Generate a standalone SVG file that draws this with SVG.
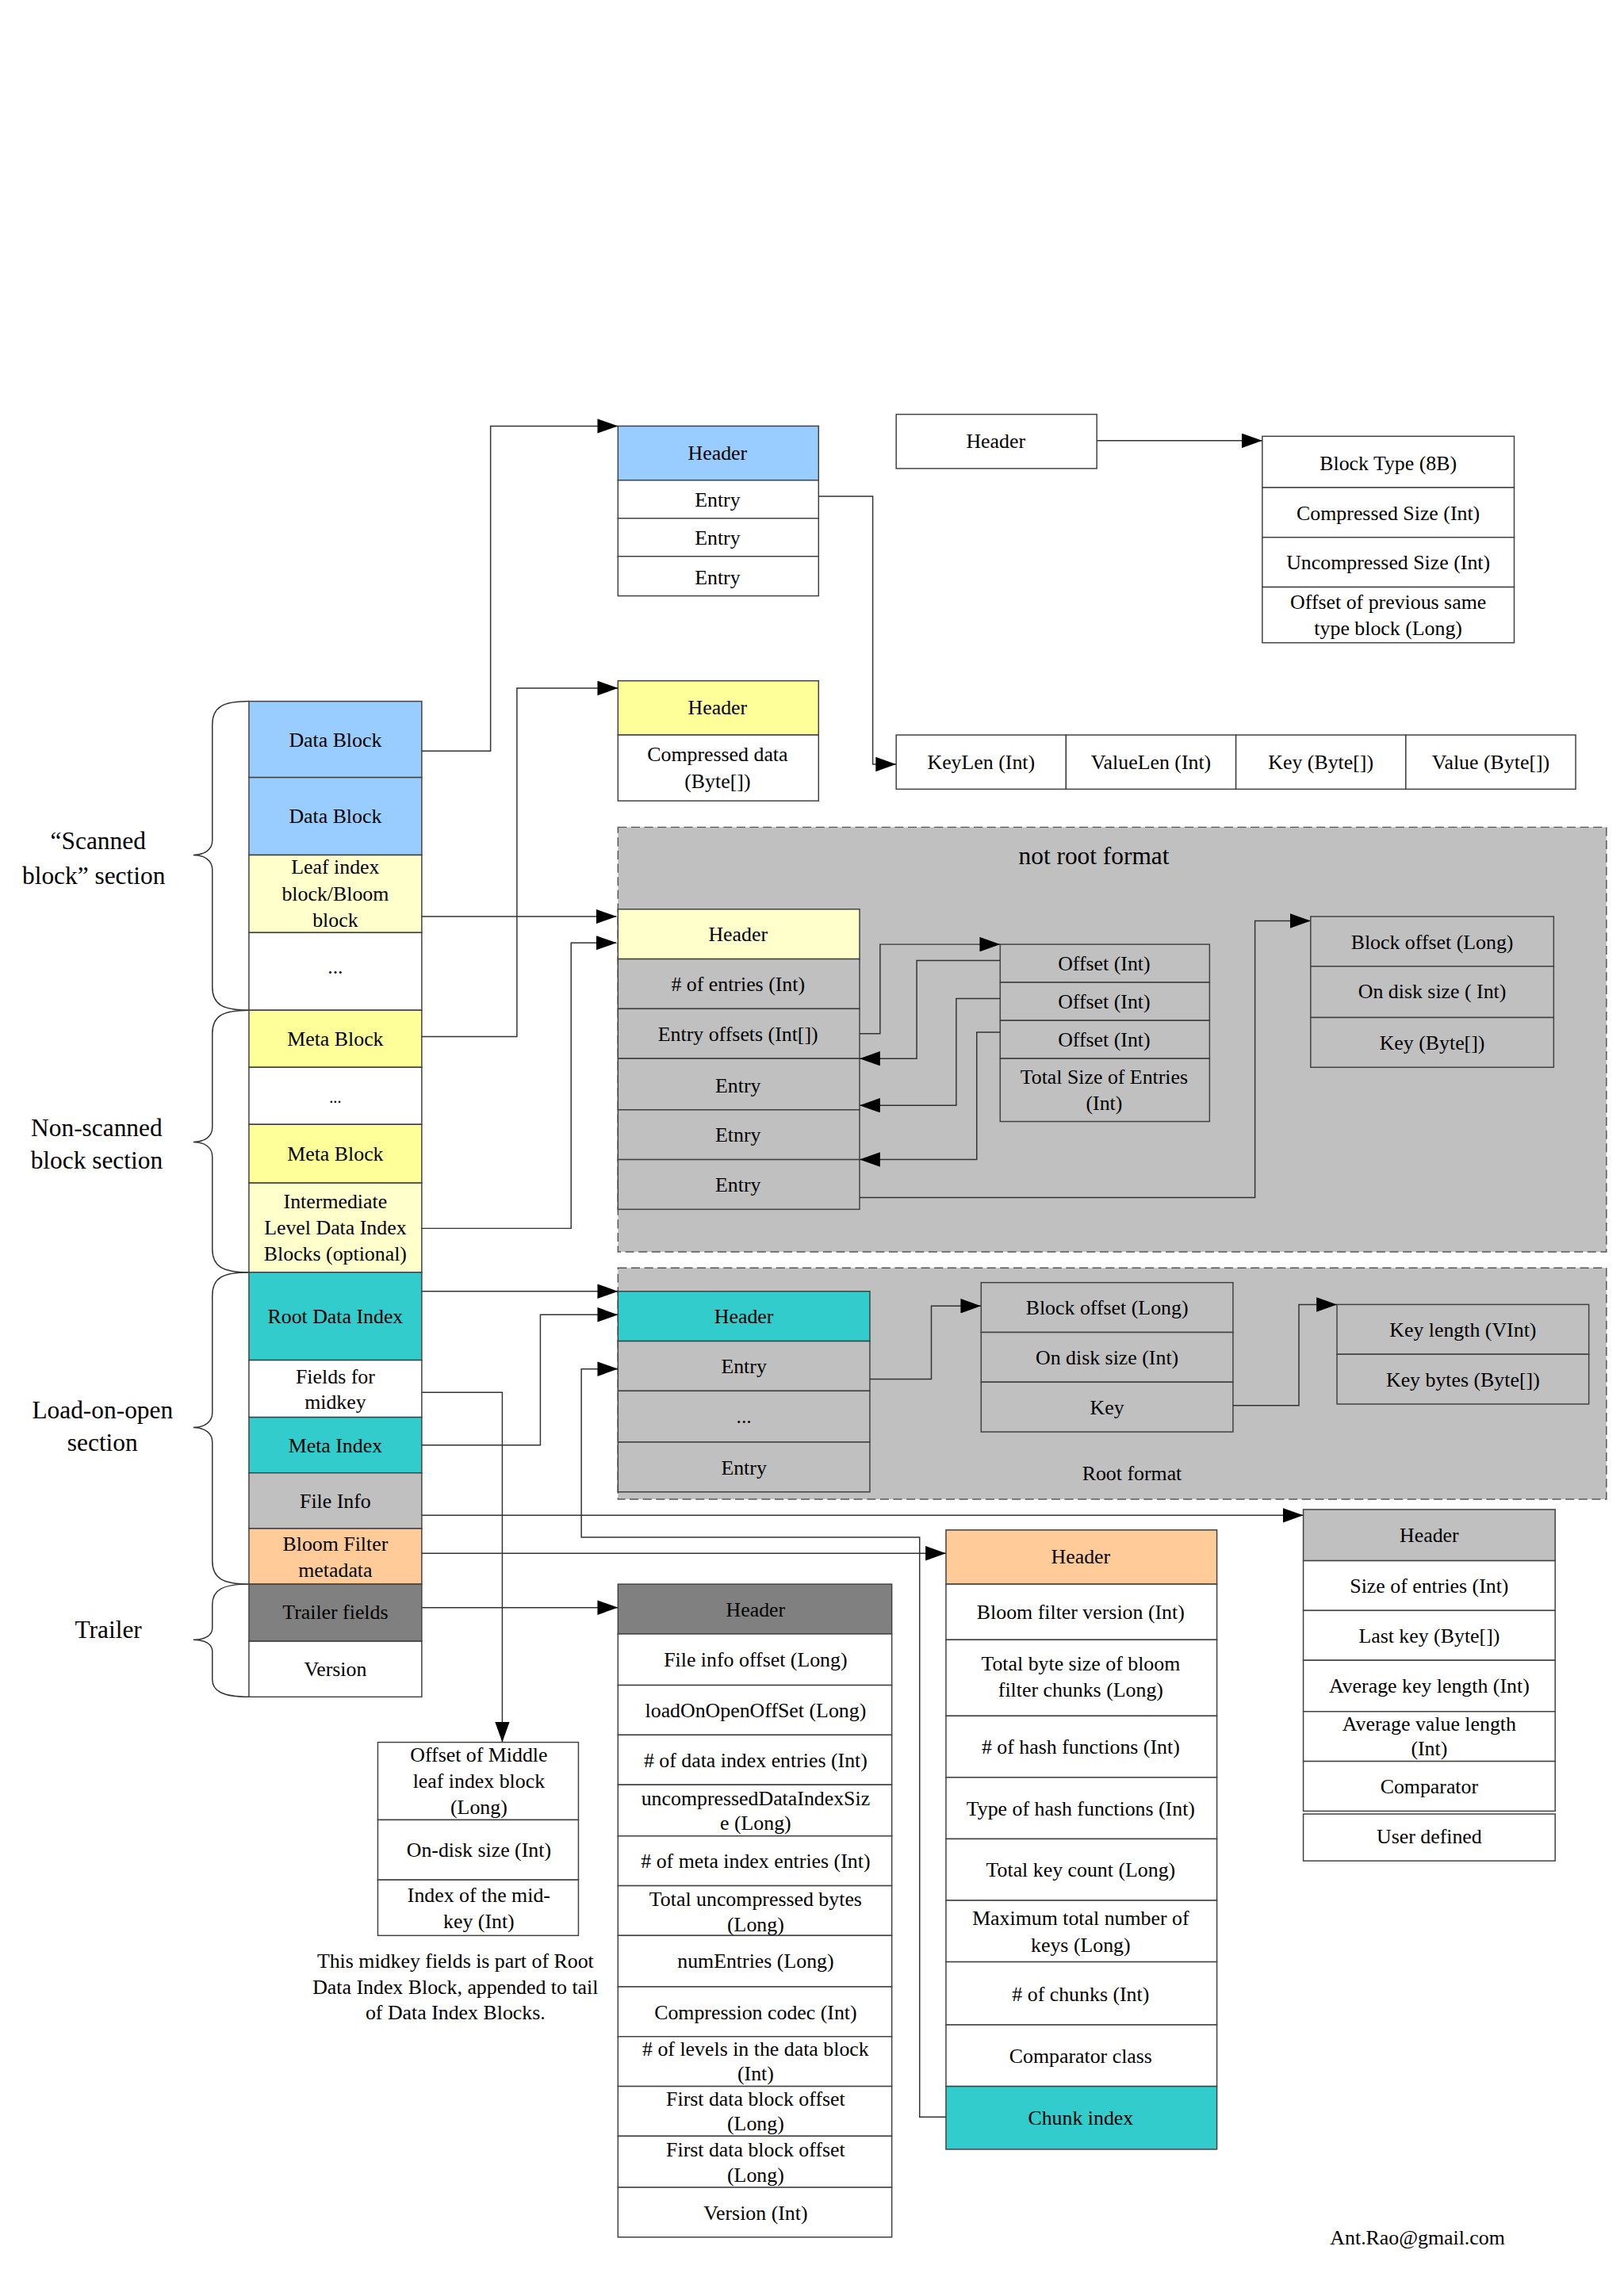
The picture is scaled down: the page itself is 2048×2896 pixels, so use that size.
<svg xmlns="http://www.w3.org/2000/svg" width="2048" height="2896" viewBox="0 0 2048 2896">
<defs>
<marker id="ah" markerUnits="userSpaceOnUse" markerWidth="14" markerHeight="10" refX="14" refY="5" orient="auto"><path d="M0,0 L14,5 L0,10 z" fill="#000"/></marker>
<style>
rect{stroke:#404040;stroke-width:0.8}
.w{fill:#fff}.b{fill:#99CCFF}.y{fill:#FFFF99}.ly{fill:#FFFFCC}.t{fill:#33CCCC}.g{fill:#C0C0C0}.o{fill:#FFCC99}.d{fill:#808080}
text{font-family:"Liberation Serif","Times New Roman",serif;font-size:14px;text-anchor:middle;fill:#000}
.big{font-size:17px}
.cn path,.cn polyline{fill:none;stroke:#333;stroke-width:0.8}
.ar{marker-end:url(#ah)}
.dash{fill:#C0C0C0;stroke:#555;stroke-dasharray:6,3;stroke-width:0.8}
</style>
</defs>
<rect x="0" y="0" width="2048" height="2896" fill="#fff" style="stroke:none"/>
<g transform="scale(1.8467)">
<g id="labels">
<text class="big" x="67" y="580">“Scanned</text><text class="big" x="64" y="604">block”  section</text>
<text class="big" x="66" y="776">Non-scanned</text><text class="big" x="66" y="798">block section</text>
<text class="big" x="70" y="969">Load-on-open</text><text class="big" x="70" y="991">section</text>
<text class="big" x="74" y="1119">Trailer</text>
<path d="M170,479 C152,479 145,483 145,495 L145,574 C145,580 140,584 132,584 C140,584 145,588 145,594 L145,674 C145,686 152,690 170,690" fill="none" stroke="#333" stroke-width="0.8"/>
<path d="M170,690 C152,690 145,694 145,706 L145,770 C145,776 140,780 132,780 C140,780 145,784 145,790 L145,853 C145,865 152,869 170,869" fill="none" stroke="#333" stroke-width="0.8"/>
<path d="M170,869 C152,869 145,873 145,885 L145,965 C145,971 140,975 132,975 C140,975 145,979 145,985 L145,1066 C145,1078 152,1082 170,1082" fill="none" stroke="#333" stroke-width="0.8"/>
<path d="M170,1082 C152,1082 145,1086 145,1096 L145,1112 C145,1117 140,1120 132,1120 C140,1120 145,1123 145,1128 L145,1147 C145,1155 152,1159 170,1159" fill="none" stroke="#333" stroke-width="0.8"/>
</g>
<g id="hfile">
<rect class="b" x="170" y="479" width="118" height="52"/><text x="229" y="510">Data Block</text>
<rect class="b" x="170" y="531" width="118" height="53"/><text x="229" y="562">Data Block</text>
<rect class="ly" x="170" y="584" width="118" height="53"/><text x="229" y="597">Leaf index</text><text x="229" y="615">block/Bloom</text><text x="229" y="633">block</text>
<rect class="w" x="170" y="637" width="118" height="53"/><text x="229" y="665">...</text>
<rect class="y" x="170" y="690" width="118" height="39"/><text x="229" y="714">Meta Block</text>
<rect class="w" x="170" y="729" width="118" height="39"/><text x="229" y="753" style="font-size:11px">...</text>
<rect class="y" x="170" y="768" width="118" height="40"/><text x="229" y="793">Meta Block</text>
<rect class="ly" x="170" y="808" width="118" height="61"/><text x="229" y="825">Intermediate</text><text x="229" y="843">Level Data Index</text><text x="229" y="861">Blocks (optional)</text>
<rect class="t" x="170" y="869" width="118" height="60"/><text x="229" y="904">Root Data Index</text>
<rect class="w" x="170" y="929" width="118" height="39"/><text x="229" y="945">Fields for</text><text x="229" y="962">midkey</text>
<rect class="t" x="170" y="968" width="118" height="38"/><text x="229" y="992">Meta Index</text>
<rect class="g" x="170" y="1006" width="118" height="38"/><text x="229" y="1030">File Info</text>
<rect class="o" x="170" y="1044" width="118" height="38"/><text x="229" y="1059">Bloom Filter</text><text x="229" y="1077">metadata</text>
<rect class="d" x="170" y="1082" width="118" height="39"/><text x="229" y="1106">Trailer fields</text>
<rect class="w" x="170" y="1121" width="118" height="38"/><text x="229" y="1145">Version</text>
</g>
<g id="datablock">
<rect class="b" x="422" y="291" width="137" height="37"/><text x="490" y="314">Header</text>
<rect class="w" x="422" y="328" width="137" height="26"/><text x="490" y="346">Entry</text>
<rect class="w" x="422" y="354" width="137" height="26"/><text x="490" y="372">Entry</text>
<rect class="w" x="422" y="380" width="137" height="27"/><text x="490" y="399">Entry</text>
</g>
<g id="metablock">
<rect class="y" x="422" y="465" width="137" height="37"/><text x="490" y="488">Header</text>
<rect class="w" x="422" y="502" width="137" height="45"/><text x="490" y="520">Compressed data</text><text x="490" y="538">(Byte[])</text>
</g>
<g id="blockheader">
<rect class="w" x="612" y="283" width="137" height="37"/><text x="680" y="306">Header</text>
<rect class="w" x="862" y="298" width="172" height="35"/><text x="948" y="321">Block Type (8B)</text>
<rect class="w" x="862" y="333" width="172" height="34"/><text x="948" y="355">Compressed Size (Int)</text>
<rect class="w" x="862" y="367" width="172" height="34"/><text x="948" y="389">Uncompressed Size (Int)</text>
<rect class="w" x="862" y="401" width="172" height="38"/><text x="948" y="416">Offset of previous same</text><text x="948" y="434">type block (Long)</text>
</g>
<g id="keyvalue">
<rect class="w" x="612" y="502" width="116" height="37"/><text x="670" y="525">KeyLen (Int)</text>
<rect class="w" x="728" y="502" width="116" height="37"/><text x="786" y="525">ValueLen (Int)</text>
<rect class="w" x="844" y="502" width="116" height="37"/><text x="902" y="525">Key (Byte[])</text>
<rect class="w" x="960" y="502" width="116" height="37"/><text x="1018" y="525">Value (Byte[])</text>
</g>
<g id="notroot">
<rect class="dash" x="422" y="565" width="675" height="290"/>
<text class="big" x="747" y="590">not root format</text>
<rect class="ly" x="422" y="621" width="165" height="34"/><text x="504" y="643">Header</text>
<rect class="g" x="422" y="655" width="165" height="34"/><text x="504" y="677"># of entries (Int)</text>
<rect class="g" x="422" y="689" width="165" height="34"/><text x="504" y="711">Entry offsets (Int[])</text>
<rect class="g" x="422" y="723" width="165" height="35"/><text x="504" y="746">Entry</text>
<rect class="g" x="422" y="758" width="165" height="34"/><text x="504" y="780">Etnry</text>
<rect class="g" x="422" y="792" width="165" height="34"/><text x="504" y="814">Entry</text>
<rect class="g" x="683" y="645" width="143" height="26"/><text x="754" y="663">Offset (Int)</text>
<rect class="g" x="683" y="671" width="143" height="26"/><text x="754" y="689">Offset (Int)</text>
<rect class="g" x="683" y="697" width="143" height="26"/><text x="754" y="715">Offset (Int)</text>
<rect class="g" x="683" y="723" width="143" height="43"/><text x="754" y="740">Total Size of Entries</text><text x="754" y="758">(Int)</text>
<rect class="g" x="895" y="626" width="166" height="34"/><text x="978" y="648">Block offset (Long)</text>
<rect class="g" x="895" y="660" width="166" height="35"/><text x="978" y="682">On disk size ( Int)</text>
<rect class="g" x="895" y="695" width="166" height="34"/><text x="978" y="717">Key (Byte[])</text>
</g>
<g id="root">
<rect class="dash" x="422" y="866" width="675" height="158"/>
<rect class="t" x="422" y="882" width="172" height="34"/><text x="508" y="904">Header</text>
<rect class="g" x="422" y="916" width="172" height="34"/><text x="508" y="938">Entry</text>
<rect class="g" x="422" y="950" width="172" height="35"/><text x="508" y="972">...</text>
<rect class="g" x="422" y="985" width="172" height="34"/><text x="508" y="1007">Entry</text>
<rect class="g" x="670" y="876" width="172" height="34"/><text x="756" y="898">Block offset (Long)</text>
<rect class="g" x="670" y="910" width="172" height="34"/><text x="756" y="932">On disk size (Int)</text>
<rect class="g" x="670" y="944" width="172" height="34"/><text x="756" y="966">Key</text>
<rect class="g" x="913" y="891" width="172" height="34"/><text x="999" y="913">Key length (VInt)</text>
<rect class="g" x="913" y="925" width="172" height="34"/><text x="999" y="947">Key bytes (Byte[])</text>
<text x="773" y="1011">Root format</text>
</g>
<g id="midkey">
<rect class="w" x="258" y="1190" width="137" height="53"/><text x="327" y="1203">Offset of Middle</text><text x="327" y="1221">leaf index block</text><text x="327" y="1239">(Long)</text>
<rect class="w" x="258" y="1243" width="137" height="41"/><text x="327" y="1268">On-disk size (Int)</text>
<rect class="w" x="258" y="1284" width="137" height="38"/><text x="327" y="1299">Index of the mid-</text><text x="327" y="1317">key (Int)</text>
<text x="311" y="1344">This midkey fields is part of Root</text><text x="311" y="1362">Data Index Block, appended to tail</text><text x="311" y="1379">of Data Index Blocks.</text>
</g>
<g id="trailer">
<rect class="d" x="422" y="1082" width="187" height="34"/><text x="516" y="1104">Header</text>
<rect class="w" x="422" y="1116" width="187" height="35"/><text x="516" y="1138">File info offset (Long)</text>
<rect class="w" x="422" y="1151" width="187" height="34"/><text x="516" y="1173">loadOnOpenOffSet (Long)</text>
<rect class="w" x="422" y="1185" width="187" height="34"/><text x="516" y="1207"># of data index entries (Int)</text>
<rect class="w" x="422" y="1219" width="187" height="35"/><text x="516" y="1233">uncompressedDataIndexSiz</text><text x="516" y="1250">e (Long)</text>
<rect class="w" x="422" y="1254" width="187" height="34"/><text x="516" y="1276"># of meta index entries (Int)</text>
<rect class="w" x="422" y="1288" width="187" height="34"/><text x="516" y="1302">Total uncompressed bytes</text><text x="516" y="1319">(Long)</text>
<rect class="w" x="422" y="1322" width="187" height="35"/><text x="516" y="1344">numEntries (Long)</text>
<rect class="w" x="422" y="1357" width="187" height="34"/><text x="516" y="1379">Compression codec (Int)</text>
<rect class="w" x="422" y="1391" width="187" height="34"/><text x="516" y="1404"># of levels in the data block</text><text x="516" y="1421">(Int)</text>
<rect class="w" x="422" y="1425" width="187" height="34"/><text x="516" y="1438">First data block offset</text><text x="516" y="1455">(Long)</text>
<rect class="w" x="422" y="1459" width="187" height="35"/><text x="516" y="1473">First data block offset</text><text x="516" y="1490">(Long)</text>
<rect class="w" x="422" y="1494" width="187" height="34"/><text x="516" y="1516">Version (Int)</text>
</g>
<g id="bloom">
<rect class="o" x="646" y="1045" width="185" height="37"/><text x="738" y="1068">Header</text>
<rect class="w" x="646" y="1082" width="185" height="38"/><text x="738" y="1106">Bloom filter version (Int)</text>
<rect class="w" x="646" y="1120" width="185" height="52"/><text x="738" y="1141">Total byte size of bloom</text><text x="738" y="1159">filter chunks (Long)</text>
<rect class="w" x="646" y="1172" width="185" height="42"/><text x="738" y="1198"># of hash functions (Int)</text>
<rect class="w" x="646" y="1214" width="185" height="42"/><text x="738" y="1240">Type of hash functions (Int)</text>
<rect class="w" x="646" y="1256" width="185" height="42"/><text x="738" y="1282">Total key count (Long)</text>
<rect class="w" x="646" y="1298" width="185" height="42"/><text x="738" y="1315">Maximum total number of</text><text x="738" y="1333">keys (Long)</text>
<rect class="w" x="646" y="1340" width="185" height="43"/><text x="738" y="1367"># of chunks (Int)</text>
<rect class="w" x="646" y="1383" width="185" height="42"/><text x="738" y="1409">Comparator class</text>
<rect class="t" x="646" y="1425" width="185" height="43"/><text x="738" y="1451">Chunk index</text>
</g>
<g id="fileinfo">
<rect class="g" x="890" y="1031" width="172" height="35"/><text x="976" y="1053">Header</text>
<rect class="w" x="890" y="1066" width="172" height="34"/><text x="976" y="1088">Size of entries (Int)</text>
<rect class="w" x="890" y="1100" width="172" height="34"/><text x="976" y="1122">Last key (Byte[])</text>
<rect class="w" x="890" y="1134" width="172" height="35"/><text x="976" y="1156">Average key length (Int)</text>
<rect class="w" x="890" y="1169" width="172" height="34"/><text x="976" y="1182">Average value length</text><text x="976" y="1199">(Int)</text>
<rect class="w" x="890" y="1203" width="172" height="34"/><text x="976" y="1225">Comparator</text>
<rect class="w" x="890" y="1239" width="172" height="32"/><text x="976" y="1259">User defined</text>
</g>
<text x="968" y="1533">Ant.Rao@gmail.com</text>
<g id="connectors" class="cn">
<polyline class="ar" points="288,513 335,513 335,291 422,291"/>
<polyline class="ar" points="288,708 353,708 353,470 422,470"/>
<polyline class="ar" points="288,626 421,626"/>
<polyline class="ar" points="288,839 390,839 390,644 421,644"/>
<polyline class="ar" points="288,882 422,882"/>
<polyline class="ar" points="288,987 369,987 369,898 422,898"/>
<polyline class="ar" points="288,951 343,951 343,1190"/>
<polyline class="ar" points="288,1035 890,1035"/>
<polyline class="ar" points="288,1061 646,1061"/>
<polyline class="ar" points="288,1098 422,1098"/>
<polyline class="ar" points="646,1446 628,1446 628,1050 397,1050 397,935 422,935"/>
<polyline class="ar" points="749,301 862,301"/>
<polyline class="ar" points="559,339 596,339 596,522 612,522"/>
<polyline class="ar" points="587,706 601,706 601,645 683,645"/>
<polyline class="ar" points="683,656 626,656 626,723 587,723"/>
<polyline class="ar" points="683,682 653,682 653,755 587,755"/>
<polyline class="ar" points="683,705 667,705 667,792 587,792"/>
<polyline class="ar" points="587,818 857,818 857,629 895,629"/>
<polyline class="ar" points="594,942 636,942 636,892 670,892"/>
<polyline class="ar" points="842,960 887,960 887,891 913,891"/>
</g>
</g>
</svg>
